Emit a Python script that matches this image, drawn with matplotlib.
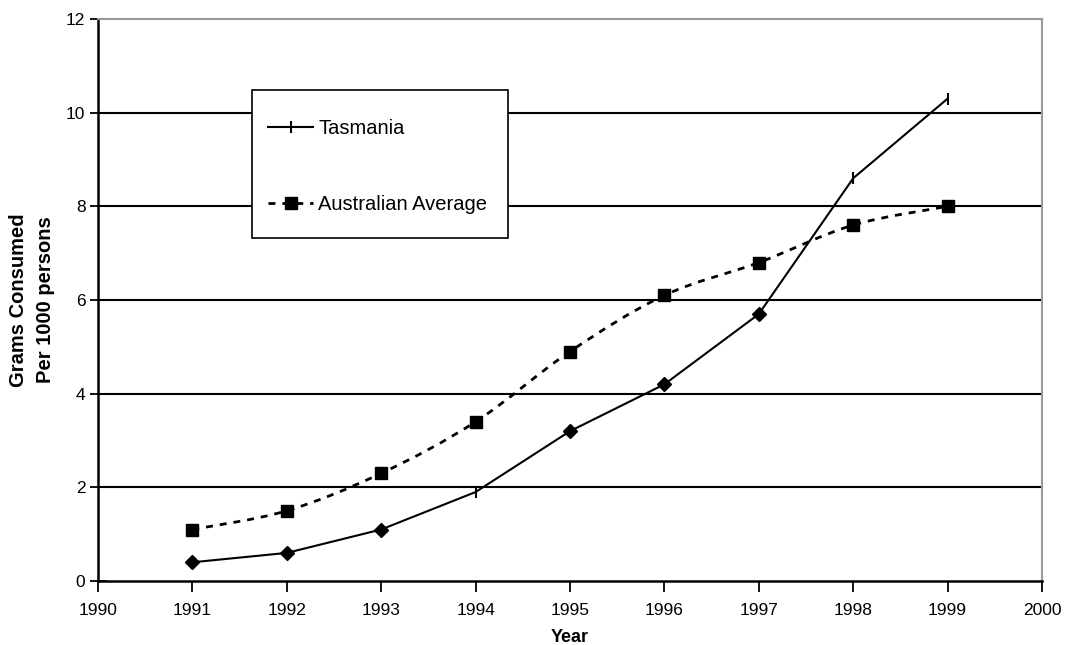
import matplotlib
matplotlib.use("Agg")
import matplotlib.pyplot as plt
from matplotlib.path import Path
from matplotlib.patches import PathPatch, Rectangle
from matplotlib.lines import Line2D
import numpy as np

plt.rcParams['font.family'] = ['Liberation Sans', 'DejaVu Sans']

years = [1991, 1992, 1993, 1994, 1995, 1996, 1997, 1998, 1999]
tasmania = [0.4, 0.6, 1.1, 1.9, 3.2, 4.2, 5.7, 8.6, 10.3]
australian_avg = [1.1, 1.5, 2.3, 3.4, 4.9, 6.1, 6.8, 7.6, 8.0]
diamond_idx = [0, 1, 2, 4, 5, 6]
x_ticks = list(range(1990, 2001))
y_ticks = [0, 2, 4, 6, 8, 10, 12]

fig = plt.figure(figsize=(10.79, 6.45), dpi=100)
ax = fig.add_axes([0.0908, 0.0992, 0.8749, 0.8713])
ax.set_xlim(1990, 2000)
ax.set_ylim(0, 12)

# horizontal gridlines
for yv in y_ticks[1:-1]:
    ax.axhline(yv, color='black', lw=1.5, zorder=1)

# Tasmania: solid line with tick markers, diamonds on some points
ax.plot(years, tasmania, color='black', lw=1.5, marker='|', ms=8, mew=1.5,
        zorder=3, label='Tasmania')
ax.plot(years, tasmania, linestyle='none', marker='D', ms=6.8, color='black',
        markevery=diamond_idx, zorder=4)

# Australian average: smoothed dashed curve (Catmull-Rom style Bezier)
pts = np.column_stack([years, australian_avg]).astype(float)
verts = [tuple(pts[0])]
codes = [Path.MOVETO]
n = len(pts)
for i in range(n - 1):
    p0 = pts[max(i - 1, 0)]
    p1 = pts[i]
    p2 = pts[i + 1]
    p3 = pts[min(i + 2, n - 1)]
    c1 = p1 + (p2 - p0) / 6.0
    c2 = p2 - (p3 - p1) / 6.0
    verts += [tuple(c1), tuple(c2), tuple(p2)]
    codes += [Path.CURVE4] * 3
curve = PathPatch(Path(verts, codes), fill=False, edgecolor='black', lw=2.0,
                  linestyle=(0, (2.5, 2.5)), zorder=3, capstyle='butt')
ax.add_patch(curve)
ax.plot(years, australian_avg, linestyle='none', marker='s', ms=8.5,
        color='black', zorder=4)

# legend box
box = Rectangle((0.163, 0.6103), 0.2712, 0.2633, transform=ax.transAxes,
                facecolor='white', edgecolor='black', lw=1.2, zorder=5)
ax.add_patch(box)
handles = [
    Line2D([], [], color='black', lw=1.5, marker='|', ms=8, mew=1.5),
    Line2D([], [], color='black', lw=2.0, linestyle=(0, (2.5, 2.5)),
           marker='s', ms=8.5),
]
leg = ax.legend(handles, ['Tasmania', 'Australian Average'], loc='upper left',
                bbox_to_anchor=(0.180, 0.8218), frameon=False, fontsize=14.5,
                borderpad=0, borderaxespad=0, handlelength=2.25,
                handletextpad=0.25, labelspacing=2.8, numpoints=1,
                markerfirst=True)
leg.set_zorder(6)

# axes styling
ax.set_xticks(x_ticks)
ax.set_yticks(y_ticks)
ax.tick_params(axis='x', direction='out', length=8, width=1.3, labelsize=12.5,
               pad=8)
ax.tick_params(axis='y', direction='inout', length=12, width=1.3,
               labelsize=12.5, pad=3)
for side in ['left', 'bottom']:
    ax.spines[side].set_color('black')
    ax.spines[side].set_linewidth(1.8)
for side in ['top', 'right']:
    ax.spines[side].set_color('#999999')
    ax.spines[side].set_linewidth(1.5)

ax.set_xlabel('Year', fontsize=13, fontweight='bold', labelpad=8)
ax.set_ylabel('Grams Consumed\nPer 1000 persons', fontsize=14.5,
              fontweight='bold', labelpad=8, linespacing=1.55)

fig.savefig('out.png', dpi=100)
